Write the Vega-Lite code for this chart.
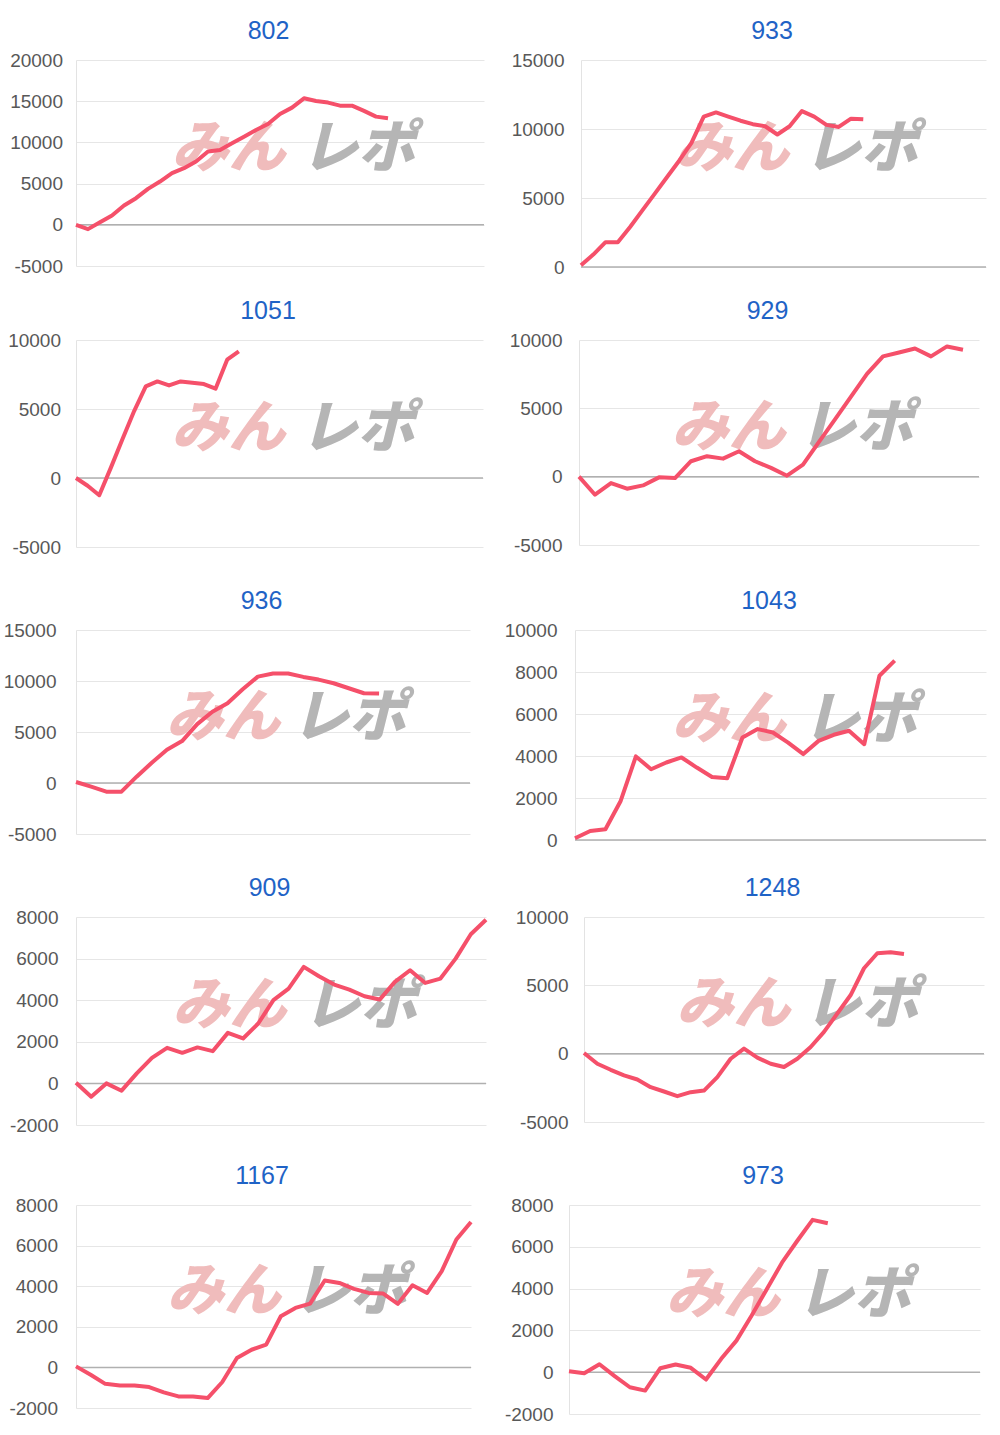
{
"$schema": "https://vega.github.io/schema/vega-lite/v6.json",
"padding": {"left": 3, "top": 19, "right": 5, "bottom": 5},
"background": "white",
"datasets": {
"d802": [{"i":0,"v":0},{"i":1,"v":-525},{"i":2,"v":320},{"i":3,"v":1130},{"i":4,"v":2340},{"i":5,"v":3230},{"i":6,"v":4360},{"i":7,"v":5250},{"i":8,"v":6260},{"i":9,"v":6870},{"i":10,"v":7680},{"i":11,"v":8890},{"i":12,"v":9090},{"i":13,"v":9900},{"i":14,"v":10700},{"i":15,"v":11500},{"i":16,"v":12240},{"i":17,"v":13450},{"i":18,"v":14220},{"i":19,"v":15350},{"i":20,"v":15030},{"i":21,"v":14830},{"i":22,"v":14460},{"i":23,"v":14460},{"i":24,"v":13820},{"i":25,"v":13130},{"i":26,"v":12930}],
"d933": [{"i":0,"v":120},{"i":1,"v":900},{"i":2,"v":1800},{"i":3,"v":1800},{"i":4,"v":2900},{"i":5,"v":4100},{"i":6,"v":5300},{"i":7,"v":6500},{"i":8,"v":7700},{"i":9,"v":9000},{"i":10,"v":10900},{"i":11,"v":11200},{"i":12,"v":10900},{"i":13,"v":10600},{"i":14,"v":10350},{"i":15,"v":10200},{"i":16,"v":9600},{"i":17,"v":10200},{"i":18,"v":11300},{"i":19,"v":10900},{"i":20,"v":10300},{"i":21,"v":10150},{"i":22,"v":10750},{"i":23,"v":10700}],
"d1051": [{"i":0,"v":0},{"i":1,"v":-560},{"i":2,"v":-1250},{"i":3,"v":750},{"i":4,"v":2830},{"i":5,"v":4850},{"i":6,"v":6640},{"i":7,"v":7000},{"i":8,"v":6710},{"i":9,"v":7000},{"i":10,"v":6900},{"i":11,"v":6810},{"i":12,"v":6470},{"i":13,"v":8570},{"i":14,"v":9180}],
"d929": [{"i":0,"v":0},{"i":1,"v":-1320},{"i":2,"v":-470},{"i":3,"v":-880},{"i":4,"v":-640},{"i":5,"v":-50},{"i":6,"v":-100},{"i":7,"v":1130},{"i":8,"v":1500},{"i":9,"v":1320},{"i":10,"v":1860},{"i":11,"v":1130},{"i":12,"v":640},{"i":13,"v":70},{"i":14,"v":880},{"i":15,"v":2550},{"i":16,"v":4190},{"i":17,"v":5860},{"i":18,"v":7520},{"i":19,"v":8800},{"i":20,"v":9090},{"i":21,"v":9380},{"i":22,"v":8800},{"i":23,"v":9530},{"i":24,"v":9290}],
"d936": [{"i":0,"v":100},{"i":1,"v":-360},{"i":2,"v":-850},{"i":3,"v":-850},{"i":4,"v":620},{"i":5,"v":1990},{"i":6,"v":3260},{"i":7,"v":4110},{"i":8,"v":5770},{"i":9,"v":6980},{"i":10,"v":7820},{"i":11,"v":9190},{"i":12,"v":10430},{"i":13,"v":10730},{"i":14,"v":10730},{"i":15,"v":10400},{"i":16,"v":10140},{"i":17,"v":9780},{"i":18,"v":9290},{"i":19,"v":8800},{"i":20,"v":8770}],
"d1043": [{"i":0,"v":80},{"i":1,"v":430},{"i":2,"v":510},{"i":3,"v":1860},{"i":4,"v":3980},{"i":5,"v":3370},{"i":6,"v":3690},{"i":7,"v":3930},{"i":8,"v":3450},{"i":9,"v":3000},{"i":10,"v":2940},{"i":11,"v":4880},{"i":12,"v":5280},{"i":13,"v":5120},{"i":14,"v":4640},{"i":15,"v":4090},{"i":16,"v":4720},{"i":17,"v":5010},{"i":18,"v":5200},{"i":19,"v":4560},{"i":20,"v":7820},{"i":21,"v":8540}],
"d909": [{"i":0,"v":30},{"i":1,"v":-640},{"i":2,"v":0},{"i":3,"v":-350},{"i":4,"v":480},{"i":5,"v":1230},{"i":6,"v":1710},{"i":7,"v":1470},{"i":8,"v":1730},{"i":9,"v":1550},{"i":10,"v":2430},{"i":11,"v":2160},{"i":12,"v":2880},{"i":13,"v":4000},{"i":14,"v":4560},{"i":15,"v":5600},{"i":16,"v":5150},{"i":17,"v":4750},{"i":18,"v":4510},{"i":19,"v":4190},{"i":20,"v":4030},{"i":21,"v":4880},{"i":22,"v":5440},{"i":23,"v":4830},{"i":24,"v":5040},{"i":25,"v":6000},{"i":26,"v":7170},{"i":27,"v":7870}],
"d1248": [{"i":0,"v":50},{"i":1,"v":-740},{"i":2,"v":-1180},{"i":3,"v":-1590},{"i":4,"v":-1890},{"i":5,"v":-2450},{"i":6,"v":-2770},{"i":7,"v":-3110},{"i":8,"v":-2820},{"i":9,"v":-2700},{"i":10,"v":-1720},{"i":11,"v":-370},{"i":12,"v":370},{"i":13,"v":-290},{"i":14,"v":-740},{"i":15,"v":-980},{"i":16,"v":-370},{"i":17,"v":490},{"i":18,"v":1590},{"i":19,"v":2940},{"i":20,"v":4290},{"i":21,"v":6250},{"i":22,"v":7350},{"i":23,"v":7420},{"i":24,"v":7300}],
"d1167": [{"i":0,"v":50},{"i":1,"v":-360},{"i":2,"v":-810},{"i":3,"v":-890},{"i":4,"v":-890},{"i":5,"v":-970},{"i":6,"v":-1230},{"i":7,"v":-1430},{"i":8,"v":-1430},{"i":9,"v":-1510},{"i":10,"v":-720},{"i":11,"v":460},{"i":12,"v":870},{"i":13,"v":1120},{"i":14,"v":2520},{"i":15,"v":2930},{"i":16,"v":3140},{"i":17,"v":4280},{"i":18,"v":4160},{"i":19,"v":3870},{"i":20,"v":3670},{"i":21,"v":3640},{"i":22,"v":3130},{"i":23,"v":4050},{"i":24,"v":3670},{"i":25,"v":4740},{"i":26,"v":6300},{"i":27,"v":7160}],
"d973": [{"i":0,"v":50},{"i":1,"v":-50},{"i":2,"v":380},{"i":3,"v":-190},{"i":4,"v":-720},{"i":5,"v":-880},{"i":6,"v":190},{"i":7,"v":370},{"i":8,"v":210},{"i":9,"v":-350},{"i":10,"v":640},{"i":11,"v":1510},{"i":12,"v":2710},{"i":13,"v":3980},{"i":14,"v":5250},{"i":15,"v":6290},{"i":16,"v":7290},{"i":17,"v":7130}]
},
"spacing": 20,
"vconcat": [
{"spacing": 20, "hconcat": [
{"title": "802", "width": 408, "height": 206, "layer": [
 {"data": {"values": [{}]}, "mark": {"type": "text", "text": "みん", "font": "Noto Sans CJK JP", "fontSize": 57, "fontWeight": 900, "fontStyle": "italic", "color": "#f0bcbc", "baseline": "middle", "align": "center"}, "encoding": {"x": {"datum": 12.7, "type": "quantitative", "scale": {"domain": [0, 34], "nice": false, "zero": false}, "axis": {"labels": false, "ticks": false, "domain": false, "grid": false, "title": null, "minExtent": 12.5}}, "y": {"datum": 9125, "type": "quantitative", "scale": {"domain": [-5000, 20000], "nice": false}, "axis": {"values": [-5000, 0, 5000, 10000, 15000, 20000], "labelExpr": "'' + datum.value", "title": null, "labelPadding": 13.5, "minExtent": 73}}}},
 {"data": {"values": [{}]}, "mark": {"type": "text", "text": "レポ", "font": "Noto Sans CJK JP", "fontSize": 57, "fontWeight": 900, "fontStyle": "italic", "color": "#b5b5b5", "baseline": "middle", "align": "center"}, "encoding": {"x": {"datum": 23.5, "type": "quantitative", "scale": {"domain": [0, 34], "nice": false, "zero": false}, "axis": {"labels": false, "ticks": false, "domain": false, "grid": false, "title": null, "minExtent": 12.5}}, "y": {"datum": 9125, "type": "quantitative", "scale": {"domain": [-5000, 20000], "nice": false}, "axis": {"values": [-5000, 0, 5000, 10000, 15000, 20000], "labelExpr": "'' + datum.value", "title": null, "labelPadding": 13.5, "minExtent": 73}}}},
 {"data": {"values": [{}]}, "mark": {"type": "rule", "color": "#b0b0b0", "strokeWidth": 1.5}, "encoding": {"y": {"datum": 0, "type": "quantitative", "scale": {"domain": [-5000, 20000], "nice": false}, "axis": {"values": [-5000, 0, 5000, 10000, 15000, 20000], "labelExpr": "'' + datum.value", "title": null, "labelPadding": 13.5, "minExtent": 73}}}},
 {"data": {"name": "d802"}, "mark": {"type": "line", "color": "#f5506a", "strokeWidth": 4, "strokeJoin": "round"}, "encoding": {"x": {"field": "i", "type": "quantitative", "scale": {"domain": [0, 34], "nice": false, "zero": false}, "axis": {"labels": false, "ticks": false, "domain": false, "grid": false, "title": null, "minExtent": 12.5}}, "y": {"field": "v", "type": "quantitative", "scale": {"domain": [-5000, 20000], "nice": false}, "axis": {"values": [-5000, 0, 5000, 10000, 15000, 20000], "labelExpr": "'' + datum.value", "title": null, "labelPadding": 13.5, "minExtent": 73}}}}
]},
{"title": "933", "width": 405, "height": 207, "layer": [
 {"data": {"values": [{}]}, "mark": {"type": "text", "text": "みん", "font": "Noto Sans CJK JP", "fontSize": 57, "fontWeight": 900, "fontStyle": "italic", "color": "#f0bcbc", "baseline": "middle", "align": "center"}, "encoding": {"x": {"datum": 12.3, "type": "quantitative", "scale": {"domain": [0, 33], "nice": false, "zero": false}, "axis": {"labels": false, "ticks": false, "domain": false, "grid": false, "title": null, "minExtent": 11.5}}, "y": {"datum": 8475, "type": "quantitative", "scale": {"domain": [0, 15000], "nice": false}, "axis": {"values": [0, 5000, 10000, 15000], "labelExpr": "'' + datum.value", "title": null, "labelPadding": 17, "minExtent": 76}}}},
 {"data": {"values": [{}]}, "mark": {"type": "text", "text": "レポ", "font": "Noto Sans CJK JP", "fontSize": 57, "fontWeight": 900, "fontStyle": "italic", "color": "#b5b5b5", "baseline": "middle", "align": "center"}, "encoding": {"x": {"datum": 22.8, "type": "quantitative", "scale": {"domain": [0, 33], "nice": false, "zero": false}, "axis": {"labels": false, "ticks": false, "domain": false, "grid": false, "title": null, "minExtent": 11.5}}, "y": {"datum": 8475, "type": "quantitative", "scale": {"domain": [0, 15000], "nice": false}, "axis": {"values": [0, 5000, 10000, 15000], "labelExpr": "'' + datum.value", "title": null, "labelPadding": 17, "minExtent": 76}}}},
 {"data": {"values": [{}]}, "mark": {"type": "rule", "color": "#b0b0b0", "strokeWidth": 1.5}, "encoding": {"y": {"datum": 0, "type": "quantitative", "scale": {"domain": [0, 15000], "nice": false}, "axis": {"values": [0, 5000, 10000, 15000], "labelExpr": "'' + datum.value", "title": null, "labelPadding": 17, "minExtent": 76}}}},
 {"data": {"name": "d933"}, "mark": {"type": "line", "color": "#f5506a", "strokeWidth": 4, "strokeJoin": "round"}, "encoding": {"x": {"field": "i", "type": "quantitative", "scale": {"domain": [0, 33], "nice": false, "zero": false}, "axis": {"labels": false, "ticks": false, "domain": false, "grid": false, "title": null, "minExtent": 11.5}}, "y": {"field": "v", "type": "quantitative", "scale": {"domain": [0, 15000], "nice": false}, "axis": {"values": [0, 5000, 10000, 15000], "labelExpr": "'' + datum.value", "title": null, "labelPadding": 17, "minExtent": 76}}}}
]}
]},
{"spacing": 20, "hconcat": [
{"title": "1051", "width": 407, "height": 207, "layer": [
 {"data": {"values": [{}]}, "mark": {"type": "text", "text": "みん", "font": "Noto Sans CJK JP", "fontSize": 57, "fontWeight": 900, "fontStyle": "italic", "color": "#f0bcbc", "baseline": "middle", "align": "center"}, "encoding": {"x": {"datum": 13.1, "type": "quantitative", "scale": {"domain": [0, 35], "nice": false, "zero": false}, "axis": {"labels": false, "ticks": false, "domain": false, "grid": false, "title": null, "minExtent": 22}}, "y": {"datum": 3475, "type": "quantitative", "scale": {"domain": [-5000, 10000], "nice": false}, "axis": {"values": [-5000, 0, 5000, 10000], "labelExpr": "'' + datum.value", "title": null, "labelPadding": 15.5, "minExtent": 73}}}},
 {"data": {"values": [{}]}, "mark": {"type": "text", "text": "レポ", "font": "Noto Sans CJK JP", "fontSize": 57, "fontWeight": 900, "fontStyle": "italic", "color": "#b5b5b5", "baseline": "middle", "align": "center"}, "encoding": {"x": {"datum": 24.2, "type": "quantitative", "scale": {"domain": [0, 35], "nice": false, "zero": false}, "axis": {"labels": false, "ticks": false, "domain": false, "grid": false, "title": null, "minExtent": 22}}, "y": {"datum": 3475, "type": "quantitative", "scale": {"domain": [-5000, 10000], "nice": false}, "axis": {"values": [-5000, 0, 5000, 10000], "labelExpr": "'' + datum.value", "title": null, "labelPadding": 15.5, "minExtent": 73}}}},
 {"data": {"values": [{}]}, "mark": {"type": "rule", "color": "#b0b0b0", "strokeWidth": 1.5}, "encoding": {"y": {"datum": 0, "type": "quantitative", "scale": {"domain": [-5000, 10000], "nice": false}, "axis": {"values": [-5000, 0, 5000, 10000], "labelExpr": "'' + datum.value", "title": null, "labelPadding": 15.5, "minExtent": 73}}}},
 {"data": {"name": "d1051"}, "mark": {"type": "line", "color": "#f5506a", "strokeWidth": 4, "strokeJoin": "round"}, "encoding": {"x": {"field": "i", "type": "quantitative", "scale": {"domain": [0, 35], "nice": false, "zero": false}, "axis": {"labels": false, "ticks": false, "domain": false, "grid": false, "title": null, "minExtent": 22}}, "y": {"field": "v", "type": "quantitative", "scale": {"domain": [-5000, 10000], "nice": false}, "axis": {"values": [-5000, 0, 5000, 10000], "labelExpr": "'' + datum.value", "title": null, "labelPadding": 15.5, "minExtent": 73}}}}
]},
{"title": "929", "width": 400, "height": 205, "layer": [
 {"data": {"values": [{}]}, "mark": {"type": "text", "text": "みん", "font": "Noto Sans CJK JP", "fontSize": 57, "fontWeight": 900, "fontStyle": "italic", "color": "#f0bcbc", "baseline": "middle", "align": "center"}, "encoding": {"x": {"datum": 9.35, "type": "quantitative", "scale": {"domain": [0, 25], "nice": false, "zero": false}, "axis": {"labels": false, "ticks": false, "domain": false, "grid": false, "title": null, "minExtent": 24}}, "y": {"datum": 3475, "type": "quantitative", "scale": {"domain": [-5000, 10000], "nice": false}, "axis": {"values": [-5000, 0, 5000, 10000], "labelExpr": "'' + datum.value", "title": null, "labelPadding": 17, "minExtent": 75}}}},
 {"data": {"values": [{}]}, "mark": {"type": "text", "text": "レポ", "font": "Noto Sans CJK JP", "fontSize": 57, "fontWeight": 900, "fontStyle": "italic", "color": "#b5b5b5", "baseline": "middle", "align": "center"}, "encoding": {"x": {"datum": 17.3, "type": "quantitative", "scale": {"domain": [0, 25], "nice": false, "zero": false}, "axis": {"labels": false, "ticks": false, "domain": false, "grid": false, "title": null, "minExtent": 24}}, "y": {"datum": 3475, "type": "quantitative", "scale": {"domain": [-5000, 10000], "nice": false}, "axis": {"values": [-5000, 0, 5000, 10000], "labelExpr": "'' + datum.value", "title": null, "labelPadding": 17, "minExtent": 75}}}},
 {"data": {"values": [{}]}, "mark": {"type": "rule", "color": "#b0b0b0", "strokeWidth": 1.5}, "encoding": {"y": {"datum": 0, "type": "quantitative", "scale": {"domain": [-5000, 10000], "nice": false}, "axis": {"values": [-5000, 0, 5000, 10000], "labelExpr": "'' + datum.value", "title": null, "labelPadding": 17, "minExtent": 75}}}},
 {"data": {"name": "d929"}, "mark": {"type": "line", "color": "#f5506a", "strokeWidth": 4, "strokeJoin": "round"}, "encoding": {"x": {"field": "i", "type": "quantitative", "scale": {"domain": [0, 25], "nice": false, "zero": false}, "axis": {"labels": false, "ticks": false, "domain": false, "grid": false, "title": null, "minExtent": 24}}, "y": {"field": "v", "type": "quantitative", "scale": {"domain": [-5000, 10000], "nice": false}, "axis": {"values": [-5000, 0, 5000, 10000], "labelExpr": "'' + datum.value", "title": null, "labelPadding": 17, "minExtent": 75}}}}
]}
]},
{"spacing": 20, "hconcat": [
{"title": "936", "width": 394, "height": 204, "layer": [
 {"data": {"values": [{}]}, "mark": {"type": "text", "text": "みん", "font": "Noto Sans CJK JP", "fontSize": 57, "fontWeight": 900, "fontStyle": "italic", "color": "#f0bcbc", "baseline": "middle", "align": "center"}, "encoding": {"x": {"datum": 9.7, "type": "quantitative", "scale": {"domain": [0, 26], "nice": false, "zero": false}, "axis": {"labels": false, "ticks": false, "domain": false, "grid": false, "title": null, "minExtent": 21.5}}, "y": {"datum": 6300, "type": "quantitative", "scale": {"domain": [-5000, 15000], "nice": false}, "axis": {"values": [-5000, 0, 5000, 10000, 15000], "labelExpr": "'' + datum.value", "title": null, "labelPadding": 20, "minExtent": 73}}}},
 {"data": {"values": [{}]}, "mark": {"type": "text", "text": "レポ", "font": "Noto Sans CJK JP", "fontSize": 57, "fontWeight": 900, "fontStyle": "italic", "color": "#b5b5b5", "baseline": "middle", "align": "center"}, "encoding": {"x": {"datum": 18.0, "type": "quantitative", "scale": {"domain": [0, 26], "nice": false, "zero": false}, "axis": {"labels": false, "ticks": false, "domain": false, "grid": false, "title": null, "minExtent": 21.5}}, "y": {"datum": 6300, "type": "quantitative", "scale": {"domain": [-5000, 15000], "nice": false}, "axis": {"values": [-5000, 0, 5000, 10000, 15000], "labelExpr": "'' + datum.value", "title": null, "labelPadding": 20, "minExtent": 73}}}},
 {"data": {"values": [{}]}, "mark": {"type": "rule", "color": "#b0b0b0", "strokeWidth": 1.5}, "encoding": {"y": {"datum": 0, "type": "quantitative", "scale": {"domain": [-5000, 15000], "nice": false}, "axis": {"values": [-5000, 0, 5000, 10000, 15000], "labelExpr": "'' + datum.value", "title": null, "labelPadding": 20, "minExtent": 73}}}},
 {"data": {"name": "d936"}, "mark": {"type": "line", "color": "#f5506a", "strokeWidth": 4, "strokeJoin": "round"}, "encoding": {"x": {"field": "i", "type": "quantitative", "scale": {"domain": [0, 26], "nice": false, "zero": false}, "axis": {"labels": false, "ticks": false, "domain": false, "grid": false, "title": null, "minExtent": 21.5}}, "y": {"field": "v", "type": "quantitative", "scale": {"domain": [-5000, 15000], "nice": false}, "axis": {"values": [-5000, 0, 5000, 10000, 15000], "labelExpr": "'' + datum.value", "title": null, "labelPadding": 20, "minExtent": 73}}}}
]},
{"title": "1043", "width": 411, "height": 210, "layer": [
 {"data": {"values": [{}]}, "mark": {"type": "text", "text": "みん", "font": "Noto Sans CJK JP", "fontSize": 57, "fontWeight": 900, "fontStyle": "italic", "color": "#f0bcbc", "baseline": "middle", "align": "center"}, "encoding": {"x": {"datum": 10.1, "type": "quantitative", "scale": {"domain": [0, 27], "nice": false, "zero": false}, "axis": {"labels": false, "ticks": false, "domain": false, "grid": false, "title": null, "minExtent": 15.5}}, "y": {"datum": 5650, "type": "quantitative", "scale": {"domain": [0, 10000], "nice": false}, "axis": {"values": [0, 2000, 4000, 6000, 8000, 10000], "labelExpr": "'' + datum.value", "title": null, "labelPadding": 18, "minExtent": 84}}}},
 {"data": {"values": [{}]}, "mark": {"type": "text", "text": "レポ", "font": "Noto Sans CJK JP", "fontSize": 57, "fontWeight": 900, "fontStyle": "italic", "color": "#b5b5b5", "baseline": "middle", "align": "center"}, "encoding": {"x": {"datum": 18.7, "type": "quantitative", "scale": {"domain": [0, 27], "nice": false, "zero": false}, "axis": {"labels": false, "ticks": false, "domain": false, "grid": false, "title": null, "minExtent": 15.5}}, "y": {"datum": 5650, "type": "quantitative", "scale": {"domain": [0, 10000], "nice": false}, "axis": {"values": [0, 2000, 4000, 6000, 8000, 10000], "labelExpr": "'' + datum.value", "title": null, "labelPadding": 18, "minExtent": 84}}}},
 {"data": {"values": [{}]}, "mark": {"type": "rule", "color": "#b0b0b0", "strokeWidth": 1.5}, "encoding": {"y": {"datum": 0, "type": "quantitative", "scale": {"domain": [0, 10000], "nice": false}, "axis": {"values": [0, 2000, 4000, 6000, 8000, 10000], "labelExpr": "'' + datum.value", "title": null, "labelPadding": 18, "minExtent": 84}}}},
 {"data": {"name": "d1043"}, "mark": {"type": "line", "color": "#f5506a", "strokeWidth": 4, "strokeJoin": "round"}, "encoding": {"x": {"field": "i", "type": "quantitative", "scale": {"domain": [0, 27], "nice": false, "zero": false}, "axis": {"labels": false, "ticks": false, "domain": false, "grid": false, "title": null, "minExtent": 15.5}}, "y": {"field": "v", "type": "quantitative", "scale": {"domain": [0, 10000], "nice": false}, "axis": {"values": [0, 2000, 4000, 6000, 8000, 10000], "labelExpr": "'' + datum.value", "title": null, "labelPadding": 18, "minExtent": 84}}}}
]}
]},
{"spacing": 20, "hconcat": [
{"title": "909", "width": 410, "height": 208, "layer": [
 {"data": {"values": [{}]}, "mark": {"type": "text", "text": "みん", "font": "Noto Sans CJK JP", "fontSize": 57, "fontWeight": 900, "fontStyle": "italic", "color": "#f0bcbc", "baseline": "middle", "align": "center"}, "encoding": {"x": {"datum": 10.1, "type": "quantitative", "scale": {"domain": [0, 27], "nice": false, "zero": false}, "axis": {"labels": false, "ticks": false, "domain": false, "grid": false, "title": null, "minExtent": 18.5}}, "y": {"datum": 3650, "type": "quantitative", "scale": {"domain": [-2000, 8000], "nice": false}, "axis": {"values": [-2000, 0, 2000, 4000, 6000, 8000], "labelExpr": "'' + datum.value", "title": null, "labelPadding": 18, "minExtent": 73}}}},
 {"data": {"values": [{}]}, "mark": {"type": "text", "text": "レポ", "font": "Noto Sans CJK JP", "fontSize": 57, "fontWeight": 900, "fontStyle": "italic", "color": "#b5b5b5", "baseline": "middle", "align": "center"}, "encoding": {"x": {"datum": 18.7, "type": "quantitative", "scale": {"domain": [0, 27], "nice": false, "zero": false}, "axis": {"labels": false, "ticks": false, "domain": false, "grid": false, "title": null, "minExtent": 18.5}}, "y": {"datum": 3650, "type": "quantitative", "scale": {"domain": [-2000, 8000], "nice": false}, "axis": {"values": [-2000, 0, 2000, 4000, 6000, 8000], "labelExpr": "'' + datum.value", "title": null, "labelPadding": 18, "minExtent": 73}}}},
 {"data": {"values": [{}]}, "mark": {"type": "rule", "color": "#b0b0b0", "strokeWidth": 1.5}, "encoding": {"y": {"datum": 0, "type": "quantitative", "scale": {"domain": [-2000, 8000], "nice": false}, "axis": {"values": [-2000, 0, 2000, 4000, 6000, 8000], "labelExpr": "'' + datum.value", "title": null, "labelPadding": 18, "minExtent": 73}}}},
 {"data": {"name": "d909"}, "mark": {"type": "line", "color": "#f5506a", "strokeWidth": 4, "strokeJoin": "round"}, "encoding": {"x": {"field": "i", "type": "quantitative", "scale": {"domain": [0, 27], "nice": false, "zero": false}, "axis": {"labels": false, "ticks": false, "domain": false, "grid": false, "title": null, "minExtent": 18.5}}, "y": {"field": "v", "type": "quantitative", "scale": {"domain": [-2000, 8000], "nice": false}, "axis": {"values": [-2000, 0, 2000, 4000, 6000, 8000], "labelExpr": "'' + datum.value", "title": null, "labelPadding": 18, "minExtent": 73}}}}
]},
{"title": "1248", "width": 400, "height": 205, "layer": [
 {"data": {"values": [{}]}, "mark": {"type": "text", "text": "みん", "font": "Noto Sans CJK JP", "fontSize": 57, "fontWeight": 900, "fontStyle": "italic", "color": "#f0bcbc", "baseline": "middle", "align": "center"}, "encoding": {"x": {"datum": 11.2, "type": "quantitative", "scale": {"domain": [0, 30], "nice": false, "zero": false}, "axis": {"labels": false, "ticks": false, "domain": false, "grid": false, "title": null, "minExtent": 21.5}}, "y": {"datum": 3475, "type": "quantitative", "scale": {"domain": [-5000, 10000], "nice": false}, "axis": {"values": [-5000, 0, 5000, 10000], "labelExpr": "'' + datum.value", "title": null, "labelPadding": 16, "minExtent": 76}}}},
 {"data": {"values": [{}]}, "mark": {"type": "text", "text": "レポ", "font": "Noto Sans CJK JP", "fontSize": 57, "fontWeight": 900, "fontStyle": "italic", "color": "#b5b5b5", "baseline": "middle", "align": "center"}, "encoding": {"x": {"datum": 20.8, "type": "quantitative", "scale": {"domain": [0, 30], "nice": false, "zero": false}, "axis": {"labels": false, "ticks": false, "domain": false, "grid": false, "title": null, "minExtent": 21.5}}, "y": {"datum": 3475, "type": "quantitative", "scale": {"domain": [-5000, 10000], "nice": false}, "axis": {"values": [-5000, 0, 5000, 10000], "labelExpr": "'' + datum.value", "title": null, "labelPadding": 16, "minExtent": 76}}}},
 {"data": {"values": [{}]}, "mark": {"type": "rule", "color": "#b0b0b0", "strokeWidth": 1.5}, "encoding": {"y": {"datum": 0, "type": "quantitative", "scale": {"domain": [-5000, 10000], "nice": false}, "axis": {"values": [-5000, 0, 5000, 10000], "labelExpr": "'' + datum.value", "title": null, "labelPadding": 16, "minExtent": 76}}}},
 {"data": {"name": "d1248"}, "mark": {"type": "line", "color": "#f5506a", "strokeWidth": 4, "strokeJoin": "round"}, "encoding": {"x": {"field": "i", "type": "quantitative", "scale": {"domain": [0, 30], "nice": false, "zero": false}, "axis": {"labels": false, "ticks": false, "domain": false, "grid": false, "title": null, "minExtent": 21.5}}, "y": {"field": "v", "type": "quantitative", "scale": {"domain": [-5000, 10000], "nice": false}, "axis": {"values": [-5000, 0, 5000, 10000], "labelExpr": "'' + datum.value", "title": null, "labelPadding": 16, "minExtent": 76}}}}
]}
]},
{"spacing": 20, "hconcat": [
{"title": "1167", "width": 395, "height": 203, "layer": [
 {"data": {"values": [{}]}, "mark": {"type": "text", "text": "みん", "font": "Noto Sans CJK JP", "fontSize": 57, "fontWeight": 900, "fontStyle": "italic", "color": "#f0bcbc", "baseline": "middle", "align": "center"}, "encoding": {"x": {"datum": 10.1, "type": "quantitative", "scale": {"domain": [0, 27], "nice": false, "zero": false}, "axis": {"labels": false, "ticks": false, "domain": false, "grid": false, "title": null, "minExtent": 10}}, "y": {"datum": 3650, "type": "quantitative", "scale": {"domain": [-2000, 8000], "nice": false}, "axis": {"values": [-2000, 0, 2000, 4000, 6000, 8000], "labelExpr": "'' + datum.value", "title": null, "labelPadding": 18.5, "minExtent": 73}}}},
 {"data": {"values": [{}]}, "mark": {"type": "text", "text": "レポ", "font": "Noto Sans CJK JP", "fontSize": 57, "fontWeight": 900, "fontStyle": "italic", "color": "#b5b5b5", "baseline": "middle", "align": "center"}, "encoding": {"x": {"datum": 18.7, "type": "quantitative", "scale": {"domain": [0, 27], "nice": false, "zero": false}, "axis": {"labels": false, "ticks": false, "domain": false, "grid": false, "title": null, "minExtent": 10}}, "y": {"datum": 3650, "type": "quantitative", "scale": {"domain": [-2000, 8000], "nice": false}, "axis": {"values": [-2000, 0, 2000, 4000, 6000, 8000], "labelExpr": "'' + datum.value", "title": null, "labelPadding": 18.5, "minExtent": 73}}}},
 {"data": {"values": [{}]}, "mark": {"type": "rule", "color": "#b0b0b0", "strokeWidth": 1.5}, "encoding": {"y": {"datum": 0, "type": "quantitative", "scale": {"domain": [-2000, 8000], "nice": false}, "axis": {"values": [-2000, 0, 2000, 4000, 6000, 8000], "labelExpr": "'' + datum.value", "title": null, "labelPadding": 18.5, "minExtent": 73}}}},
 {"data": {"name": "d1167"}, "mark": {"type": "line", "color": "#f5506a", "strokeWidth": 4, "strokeJoin": "round"}, "encoding": {"x": {"field": "i", "type": "quantitative", "scale": {"domain": [0, 27], "nice": false, "zero": false}, "axis": {"labels": false, "ticks": false, "domain": false, "grid": false, "title": null, "minExtent": 10}}, "y": {"field": "v", "type": "quantitative", "scale": {"domain": [-2000, 8000], "nice": false}, "axis": {"values": [-2000, 0, 2000, 4000, 6000, 8000], "labelExpr": "'' + datum.value", "title": null, "labelPadding": 18.5, "minExtent": 73}}}}
]},
{"title": "973", "width": 411, "height": 209, "layer": [
 {"data": {"values": [{}]}, "mark": {"type": "text", "text": "みん", "font": "Noto Sans CJK JP", "fontSize": 57, "fontWeight": 900, "fontStyle": "italic", "color": "#f0bcbc", "baseline": "middle", "align": "center"}, "encoding": {"x": {"datum": 10.1, "type": "quantitative", "scale": {"domain": [0, 27], "nice": false, "zero": false}, "axis": {"labels": false, "ticks": false, "domain": false, "grid": false, "title": null, "minExtent": 10}}, "y": {"datum": 3650, "type": "quantitative", "scale": {"domain": [-2000, 8000], "nice": false}, "axis": {"values": [-2000, 0, 2000, 4000, 6000, 8000], "labelExpr": "'' + datum.value", "title": null, "labelPadding": 16, "minExtent": 76}}}},
 {"data": {"values": [{}]}, "mark": {"type": "text", "text": "レポ", "font": "Noto Sans CJK JP", "fontSize": 57, "fontWeight": 900, "fontStyle": "italic", "color": "#b5b5b5", "baseline": "middle", "align": "center"}, "encoding": {"x": {"datum": 18.7, "type": "quantitative", "scale": {"domain": [0, 27], "nice": false, "zero": false}, "axis": {"labels": false, "ticks": false, "domain": false, "grid": false, "title": null, "minExtent": 10}}, "y": {"datum": 3650, "type": "quantitative", "scale": {"domain": [-2000, 8000], "nice": false}, "axis": {"values": [-2000, 0, 2000, 4000, 6000, 8000], "labelExpr": "'' + datum.value", "title": null, "labelPadding": 16, "minExtent": 76}}}},
 {"data": {"values": [{}]}, "mark": {"type": "rule", "color": "#b0b0b0", "strokeWidth": 1.5}, "encoding": {"y": {"datum": 0, "type": "quantitative", "scale": {"domain": [-2000, 8000], "nice": false}, "axis": {"values": [-2000, 0, 2000, 4000, 6000, 8000], "labelExpr": "'' + datum.value", "title": null, "labelPadding": 16, "minExtent": 76}}}},
 {"data": {"name": "d973"}, "mark": {"type": "line", "color": "#f5506a", "strokeWidth": 4, "strokeJoin": "round"}, "encoding": {"x": {"field": "i", "type": "quantitative", "scale": {"domain": [0, 27], "nice": false, "zero": false}, "axis": {"labels": false, "ticks": false, "domain": false, "grid": false, "title": null, "minExtent": 10}}, "y": {"field": "v", "type": "quantitative", "scale": {"domain": [-2000, 8000], "nice": false}, "axis": {"values": [-2000, 0, 2000, 4000, 6000, 8000], "labelExpr": "'' + datum.value", "title": null, "labelPadding": 16, "minExtent": 76}}}}
]}
]}
],
"config": {
 "view": {"stroke": null},
 "axis": {"labelFont": "Liberation Sans", "labelFontSize": 19, "labelColor": "#585858", "ticks": false, "gridColor": "#e6e6e6", "domainColor": "#e3e3e3", "grid": true},
 "title": {"font": "Liberation Sans", "fontSize": 25, "fontWeight": "normal", "color": "#1f63c6", "frame": "group", "dx": -11.5, "offset": 7}
}
}
